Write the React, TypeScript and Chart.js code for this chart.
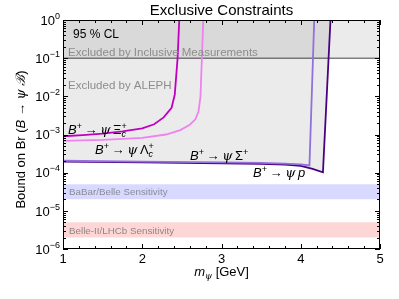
import React, { useEffect, useRef } from 'react';
import { Chart, registerables } from 'chart.js';
Chart.register(...registerables);

// B+ -> psi Xi_c+
const xiX = [1, 1.25, 1.5, 1.75, 2, 2.15, 2.27, 2.37, 2.41, 2.446, 2.467];
const xiY = [9.0e-4, 9.6e-4, 1.05e-3, 1.2e-3, 1.45e-3, 1.85e-3, 2.8e-3, 5e-3, 1.1e-2, 0.1, 1];
// B+ -> psi Lambda_c+
const lamX = [1, 1.5, 2, 2.3, 2.48, 2.6, 2.67, 2.71, 2.735, 2.77];
const lamY = [6.8e-4, 7.2e-4, 8.2e-4, 1.0e-3, 1.3e-3, 1.8e-3, 2.5e-3, 4e-3, 1e-2, 1];
// B+ -> psi Sigma+
const sigX = [1, 2, 3, 3.5, 3.8, 4.0, 4.11, 4.17];
const sigY = [2.05e-4, 1.95e-4, 1.85e-4, 1.8e-4, 1.72e-4, 1.65e-4, 1.55e-4, 1];
// B+ -> psi p
const pX = [1, 2, 3, 3.5, 3.8, 4.0, 4.15, 4.28, 4.375];
const pY = [1.95e-4, 1.85e-4, 1.75e-4, 1.7e-4, 1.62e-4, 1.5e-4, 1.25e-4, 1.02e-4, 1];

const inclusiveLimit = 0.1;
const babarBand = [2e-5, 5e-5];
const belleBand = [2e-6, 5e-6];
const xRange = [1, 5];
const yDecades = [0, -1, -2, -3, -4, -5, -6];

const SANS = 'Liberation Sans, Arial, sans-serif';
const SERIF = 'DejaVu Serif, Liberation Serif, serif';

type Seg = { t: string; f: string; dy?: number; c?: string; noAdv?: boolean };

function drawRich(ctx: CanvasRenderingContext2D, x: number, y: number, segs: Seg[], align = 'left') {
  let w = 0;
  for (const s of segs) {
    ctx.font = s.f;
    if (!s.noAdv) w += ctx.measureText(s.t).width;
  }
  let cx = align === 'center' ? x - w / 2 : align === 'right' ? x - w : x;
  ctx.textAlign = 'left';
  ctx.textBaseline = 'alphabetic';
  for (const s of segs) {
    ctx.font = s.f;
    ctx.fillStyle = s.c || '#000';
    ctx.fillText(s.t, cx, y + (s.dy || 0));
    if (!s.noAdv) cx += ctx.measureText(s.t).width;
  }
}

const pts = (xs: number[], ys: number[]) => xs.map((x, i) => ({ x, y: ys[i] }));

function decayLabel(particle: Seg[]): Seg[] {
  return [
    { t: 'B', f: `italic 13px ${SANS}` },
    { t: '+', f: `9px ${SANS}`, dy: -5 },
    { t: '\u2009\u2192\u2009', f: `13px ${SANS}` },
    { t: '\u03c8', f: `italic 13px ${SERIF}` },
    { t: '\u2009', f: `13px ${SANS}` },
    ...particle,
  ];
}

const overlay = {
  id: 'overlay',
  afterDraw(chart: any) {
    const ctx: CanvasRenderingContext2D = chart.ctx;
    const { left, right, top, bottom } = chart.chartArea;
    const xs = chart.scales.x;
    const ys = chart.scales.y;
    ctx.save();
    // frame
    ctx.strokeStyle = '#000';
    ctx.lineWidth = 1;
    ctx.strokeRect(left + 0.5, top + 0.5, right - left - 1, bottom - top - 1);
    // x ticks
    ctx.beginPath();
    for (let v = xRange[0]; v <= xRange[1] + 1e-9; v += 0.2) {
      const major = Math.abs(v - Math.round(v)) < 1e-6;
      const len = major ? 5 : 3;
      const px = Math.round(xs.getPixelForValue(v)) + 0.5;
      ctx.moveTo(px, bottom);
      ctx.lineTo(px, bottom - len);
      ctx.moveTo(px, top);
      ctx.lineTo(px, top + len);
    }
    // y ticks
    for (let k = -6; k <= 0; k++) {
      for (let m = 1; m <= 9; m++) {
        const v = m * Math.pow(10, k);
        if (v > 1.0001) break;
        const len = m === 1 ? 5 : 3;
        const py = Math.round(ys.getPixelForValue(v)) + 0.5;
        ctx.moveTo(left, py);
        ctx.lineTo(left + len, py);
        ctx.moveTo(right, py);
        ctx.lineTo(right - len, py);
      }
    }
    ctx.stroke();

    // y tick labels
    for (const k of yDecades) {
      const py = ys.getPixelForValue(Math.pow(10, k));
      const exp = k === 0 ? '0' : '\u2212' + String(-k);
      drawRich(ctx, 60, py + 4.7, [
        { t: '10', f: `13px ${SANS}` },
        { t: exp, f: `9px ${SANS}`, dy: -6 },
      ], 'right');
    }

    const cxArea = (left + right) / 2;
    // title
    drawRich(ctx, cxArea, 15, [{ t: 'Exclusive Constraints', f: `15px ${SANS}` }], 'center');
    // x axis title
    drawRich(ctx, cxArea, 276, [
      { t: 'm', f: `italic 13px ${SANS}` },
      { t: '\u03c8', f: `italic 9px ${SERIF}`, dy: 3 },
      { t: ' [GeV]', f: `13px ${SANS}` },
    ], 'center');
    // y axis title
    ctx.save();
    ctx.translate(25, (top + bottom) / 2 + 5);
    ctx.rotate(-Math.PI / 2);
    drawRich(ctx, 0, 0, [
      { t: 'Bound on Br (', f: `13px ${SANS}` },
      { t: 'B', f: `italic 13px ${SANS}` },
      { t: ' \u2192 ', f: `13px ${SANS}` },
      { t: '\u03c8', f: `italic 13px ${SERIF}` },
      { t: ' ', f: `13px ${SANS}` },
      { t: '\u212C', f: `italic 13px ${SERIF}` },
      { t: ')', f: `13px ${SANS}` },
    ], 'center');
    ctx.restore();

    // annotations
    drawRich(ctx, 73, 38, [{ t: '95 % CL', f: `12px ${SANS}` }]);
    drawRich(ctx, 68, 56, [{ t: 'Excluded by Inclusive Measurements', f: `11.5px ${SANS}`, c: '#8c8c8c' }]);
    drawRich(ctx, 68, 89, [{ t: 'Excluded by ALEPH', f: `11.5px ${SANS}`, c: '#8c8c8c' }]);
    drawRich(ctx, 69, 195, [{ t: 'BaBar/Belle Sensitivity', f: `9.8px ${SANS}`, c: '#8a8a9a' }]);
    drawRich(ctx, 69, 234, [{ t: 'Belle-II/LHCb Sensitivity', f: `9.8px ${SANS}`, c: '#8f8585' }]);

    drawRich(ctx, 68, 134, decayLabel([
      { t: '\u039E', f: `13px ${SANS}` },
      { t: 'c', f: `italic 9px ${SANS}`, dy: 3, noAdv: true },
      { t: '+', f: `9px ${SANS}`, dy: -5 },
    ]));
    drawRich(ctx, 95, 154, decayLabel([
      { t: '\u039B', f: `13px ${SANS}` },
      { t: 'c', f: `italic 9px ${SANS}`, dy: 3, noAdv: true },
      { t: '+', f: `9px ${SANS}`, dy: -5 },
    ]));
    drawRich(ctx, 190, 160, decayLabel([
      { t: '\u03A3', f: `13px ${SANS}` },
      { t: '+', f: `9px ${SANS}`, dy: -5 },
    ]));
    drawRich(ctx, 253, 177, decayLabel([
      { t: 'p', f: `italic 13px ${SANS}` },
    ]));
    ctx.restore();
  },
};

export default function App() {
  const ref = useRef<HTMLCanvasElement>(null);
  useEffect(() => {
    if (!ref.current) return;
    const grey = 'rgba(0,0,0,0.08)';
    const line = (data: any, color: string, extra: any = {}) => ({
      data,
      borderColor: color,
      borderWidth: 1.8,
      pointRadius: 0,
      fill: false,
      ...extra,
    });
    const chart = new Chart(ref.current, {
      type: 'line',
      data: {
        datasets: [
          line(pts(xiX, xiY), '#c000c0'),
          line(pts(lamX, lamY), '#ee82ee'),
          line(pts(sigX, sigY), '#9370db'),
          line(pts(pX, pY), '#4b0082', { fill: 'end', backgroundColor: grey }),
          line(pts(xRange, [inclusiveLimit, inclusiveLimit]), '#808080', { borderWidth: 1.5, fill: 'end', backgroundColor: grey }),
          line(pts(xRange, [babarBand[1], babarBand[1]]), 'rgba(0,0,0,0)', { borderWidth: 0, fill: { value: babarBand[0] }, backgroundColor: 'rgba(0,0,255,0.15)' }),
          line(pts(xRange, [belleBand[1], belleBand[1]]), 'rgba(0,0,0,0)', { borderWidth: 0, fill: { value: belleBand[0] }, backgroundColor: 'rgba(255,0,0,0.16)' }),
        ],
      } as any,
      options: {
        animation: false,
        responsive: false,
        events: [],
        layout: { padding: { left: 0, top: 20, right: 19, bottom: 0 } },
        plugins: { legend: { display: false }, title: { display: false }, tooltip: { enabled: false } },
        scales: {
          x: {
            type: 'linear',
            min: 1,
            max: 5,
            grid: { display: false, drawTicks: false },
            border: { display: false },
            ticks: { stepSize: 1, color: '#000', font: { family: SANS, size: 13 }, padding: 3, maxRotation: 0 },
            afterFit: (s: any) => { s.height = 50; },
          },
          y: {
            type: 'logarithmic',
            min: 1e-6,
            max: 1,
            grid: { display: false, drawTicks: false },
            border: { display: false },
            ticks: { display: false },
            afterFit: (s: any) => { s.width = 63; },
          },
        },
      } as any,
      plugins: [overlay],
    });
    return () => chart.destroy();
  }, []);
  return (
    <div style={{ position: 'fixed', left: 0, top: 0, width: 399, height: 299, background: '#fff' }}>
      <canvas ref={ref} width={399} height={299} style={{ width: 399, height: 299 }} />
    </div>
  );
}
